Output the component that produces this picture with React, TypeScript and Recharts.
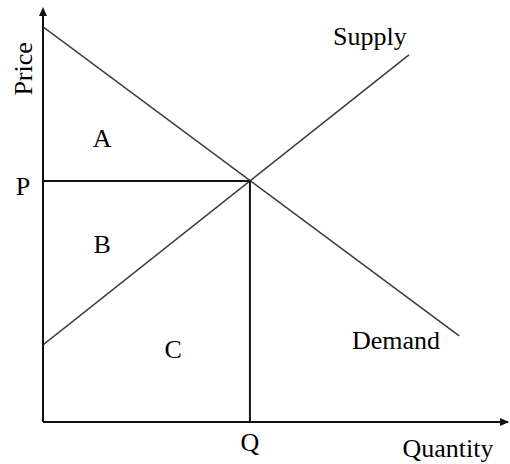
import React from 'react';
import { LineChart, Line, XAxis, YAxis, ReferenceDot, Label } from 'recharts';

// Data (axis units 0..100)
const Q = 44.5;
const P = 58.5;
const demand = [
  { x: 0, y: 95.9 },
  { x: 89.5, y: 20.9 },
];
const supply = [
  { x: 0, y: 18.7 },
  { x: 78.7, y: 89.1 },
];
const priceLine = [
  { x: 0, y: P },
  { x: Q, y: P },
];
const qtyLine = [
  { x: Q, y: P },
  { x: Q, y: 0 },
];
const xTicks = [Q];
const yTicks = [P];
const xTickLabels = ['Q'];
const yTickLabels = ['P'];
const areaLabels = [
  { text: 'A', x: 12.7, y: 68.9 },
  { text: 'B', x: 12.7, y: 43.2 },
  { text: 'C', x: 28.0, y: 17.7 },
];
const curveLabels = [
  { text: 'Supply', x: 70.3, y: 93.7 },
  { text: 'Demand', x: 75.9, y: 19.9 },
];
const axisTitles = [
  { text: 'Quantity', x: 87.1, y: -6.3, angle: 0 },
  { text: 'Price', x: -4.3, y: 85.7, angle: -90 },
];

const FONT = '"Liberation Serif", "Times New Roman", serif';
const FS = 26;

const YTick = (props: any) => {
  const { y, index } = props;
  return (
    <text x={23} y={y + 6} textAnchor="middle" dominantBaseline="central" fontFamily={FONT} fontSize={FS} fill="#000">
      {yTickLabels[index]}
    </text>
  );
};
const XTick = (props: any) => {
  const { x, y, index } = props;
  return (
    <text x={x} y={y + 18} textAnchor="middle" dominantBaseline="central" fontFamily={FONT} fontSize={FS} fill="#000">
      {xTickLabels[index]}
    </text>
  );
};

const UpArrow = (p: any) => (
  <polygon points={`${p.cx},${p.cy - 3} ${p.cx - 4},${p.cy + 6} ${p.cx + 4},${p.cy + 6}`} fill="#111" />
);
const RightArrow = (p: any) => (
  <polygon points={`${p.cx + 1},${p.cy} ${p.cx - 8},${p.cy - 4} ${p.cx - 8},${p.cy + 4}`} fill="#111" />
);

export default function App() {
  const textStyle = { fontFamily: FONT, fontSize: FS, fill: '#000' };
  return (
    <div style={{ position: 'absolute', left: 0, top: 0, background: '#fff' }}>
      <LineChart width={510} height={464} margin={{ top: 10, right: 2, bottom: 0, left: 0 }}>
        <XAxis
          type="number"
          dataKey="x"
          domain={[0, 100]}
          ticks={xTicks}
          tick={<XTick />}
          tickLine={false}
          tickSize={0}
          height={42}
          axisLine={{ stroke: '#111', strokeWidth: 2 }}
          allowDataOverflow
        />
        <YAxis
          type="number"
          dataKey="y"
          domain={[0, 100]}
          ticks={yTicks}
          tick={<YTick />}
          tickLine={false}
          tickSize={0}
          width={43}
          axisLine={{ stroke: '#111', strokeWidth: 2 }}
          allowDataOverflow
        />
        <Line data={demand} dataKey="y" stroke="#3a3a3a" strokeWidth={1.5} dot={false} isAnimationActive={false} />
        <Line data={supply} dataKey="y" stroke="#3a3a3a" strokeWidth={1.5} dot={false} isAnimationActive={false} />
        <Line data={priceLine} dataKey="y" stroke="#111" strokeWidth={2} dot={false} isAnimationActive={false} />
        <Line data={qtyLine} dataKey="y" stroke="#111" strokeWidth={2} dot={false} isAnimationActive={false} />
        <ReferenceDot x={0} y={100} r={0} shape={<UpArrow />} ifOverflow="visible" />
        <ReferenceDot x={100} y={0} r={0} shape={<RightArrow />} ifOverflow="visible" />
        {[...areaLabels, ...curveLabels].map((l) => (
          <ReferenceDot key={l.text} x={l.x} y={l.y} r={0} ifOverflow="visible" fill="none" stroke="none">
            <Label value={l.text} position="center" style={textStyle} />
          </ReferenceDot>
        ))}
        {axisTitles.map((l) => (
          <ReferenceDot key={l.text} x={l.x} y={l.y} r={0} ifOverflow="visible" fill="none" stroke="none">
            <Label value={l.text} position="center" angle={l.angle} style={textStyle} />
          </ReferenceDot>
        ))}
      </LineChart>
    </div>
  );
}
